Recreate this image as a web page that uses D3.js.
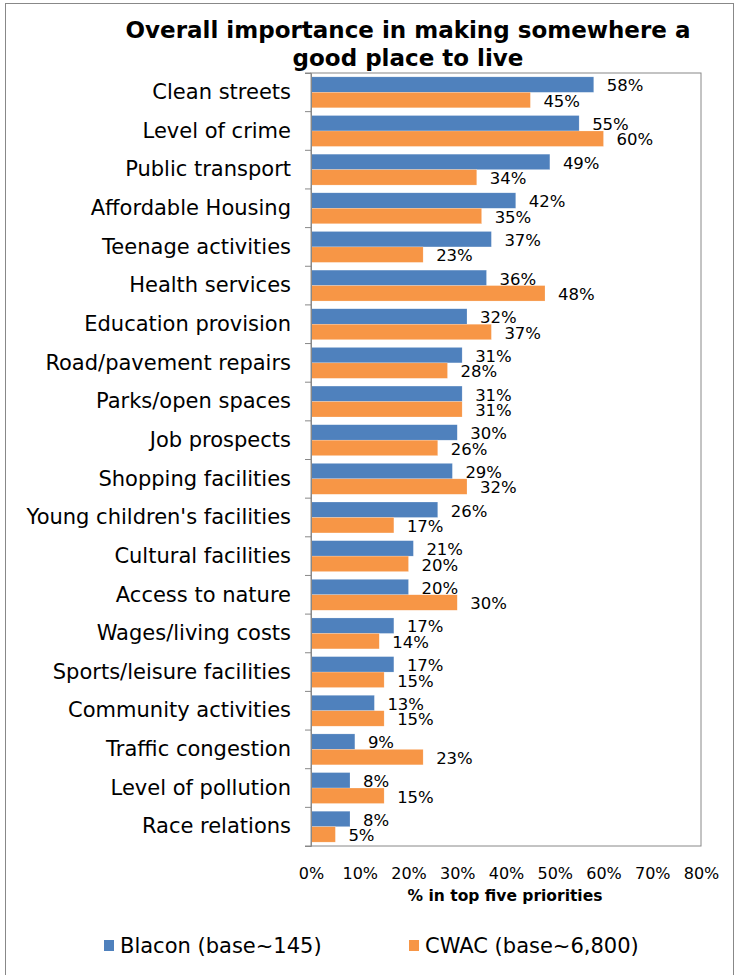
<!DOCTYPE html>
<html>
<head>
<meta charset="utf-8">
<script src="https://cdn.jsdelivr.net/npm/d3@7/dist/d3.min.js"></script>
<style>
  body { margin: 0; background: #fff; }
  svg { font-family: "DejaVu Sans", Verdana, sans-serif; }
</style>
</head>
<body>
<div id="container"></div>
<script>
/* Data */
var categories = ["Clean streets", "Level of crime", "Public transport", "Affordable Housing",
	"Teenage activities", "Health services", "Education provision", "Road/pavement repairs",
	"Parks/open spaces", "Job prospects", "Shopping facilities", "Young children's facilities",
	"Cultural facilities", "Access to nature", "Wages/living costs", "Sports/leisure facilities",
	"Community activities", "Traffic congestion", "Level of pollution", "Race relations"];
var blacon = [58, 55, 49, 42, 37, 36, 32, 31, 31, 30, 29, 26, 21, 20, 17, 17, 13, 9, 8, 8];
var cwac = [45, 60, 34, 35, 23, 48, 37, 28, 31, 26, 32, 17, 20, 30, 14, 15, 15, 23, 15, 5];
var seriesNames = ["Blacon (base~145)", "CWAC (base~6,800)"];
var xTicks = [0, 10, 20, 30, 40, 50, 60, 70, 80];
var colors = ["#4F81BD", "#F79646"];

var w = 739, h = 975;
var margin = {top: 73, left: 311, right: 38, bottom: 129};
var plotW = w - margin.left - margin.right,
	plotH = h - margin.top - margin.bottom;

var svg = d3.select("#container").append("svg")
	.attr("width", w)
	.attr("height", h);

/* outer chart border */
svg.append("rect")
	.attr("x", 5.5).attr("y", 3.5)
	.attr("width", 728).attr("height", 990)
	.attr("fill", "none")
	.attr("stroke", "#888");

/* title */
var title = svg.append("text")
	.attr("text-anchor", "middle")
	.attr("font-weight", "bold")
	.attr("font-size", 23)
	.attr("fill", "#000");
title.append("tspan").attr("x", 408).attr("y", 38).text("Overall importance in making somewhere a");
title.append("tspan").attr("x", 408).attr("y", 66).text("good place to live");

var g = svg.append("g")
	.attr("transform", "translate(" + margin.left + "," + margin.top + ")");

/* scales */
var xScale = d3.scaleLinear().domain([0, 80]).range([0, plotW]);
var yScale = d3.scaleBand().domain(categories).range([0, plotH]).paddingInner(0.2).paddingOuter(0.1);
var subScale = d3.scaleBand().domain([0, 1]).range([0, yScale.bandwidth()]);

/* plot border */
g.append("rect")
	.attr("width", plotW).attr("height", plotH)
	.attr("fill", "none")
	.attr("stroke", "#888");

/* bars */
var rows = categories.map((c, i) => ({cat: c, vals: [blacon[i], cwac[i]]}));

var row = g.selectAll(".row")
	.data(rows)
	.enter().append("g")
	.attr("class", "row")
	.attr("transform", d => "translate(0," + yScale(d.cat) + ")");

row.selectAll("rect")
	.data(d => d.vals.map((v, k) => ({v: v, k: k})))
	.enter().append("rect")
	.attr("x", 0)
	.attr("y", d => subScale(d.k))
	.attr("width", d => xScale(d.v))
	.attr("height", subScale.bandwidth())
	.attr("fill", d => colors[d.k])
	.attr("stroke", "#fff")
	.attr("stroke-opacity", 0.4)
	.attr("stroke-width", 0.5);

row.selectAll(".labels")
	.data(d => d.vals.map((v, k) => ({v: v, k: k})))
	.enter().append("text")
	.attr("class", "labels")
	.attr("x", d => xScale(d.v) + 13)
	.attr("y", d => subScale(d.k) + subScale.bandwidth() / 2 + 1)
	.attr("dy", "0.35em")
	.attr("font-size", 16.5)
	.attr("fill", "#000")
	.text(d => d.v + "%");

/* y axis */
var yAxis = d3.axisLeft(yScale).tickSize(6).tickPadding(14);
var yAx = g.append("g").call(yAxis);
yAx.select(".domain").attr("stroke", "#888");
yAx.selectAll(".tick line").attr("stroke", "#888")
	.attr("transform", "translate(0," + (-yScale.step() / 2) + ")");
yAx.selectAll(".tick text").attr("font-size", 21).attr("fill", "#000")
	.attr("font-family", "'DejaVu Sans', Verdana, sans-serif");
/* last tick at bottom */
yAx.append("line").attr("x1", -6).attr("x2", 0)
	.attr("y1", plotH).attr("y2", plotH).attr("stroke", "#888");

/* x axis */
var xAxis = d3.axisBottom(xScale).tickValues(xTicks).tickSize(0).tickPadding(22)
	.tickFormat(d => d + "%");
var xAx = g.append("g").attr("transform", "translate(0," + plotH + ")").call(xAxis);
xAx.select(".domain").remove();
xAx.selectAll(".tick text").attr("font-size", 16).attr("fill", "#000")
	.attr("font-family", "'DejaVu Sans', Verdana, sans-serif");

svg.append("text")
	.attr("x", 505).attr("y", 901)
	.attr("text-anchor", "middle")
	.attr("font-weight", "bold")
	.attr("font-size", 15.5)
	.text("% in top five priorities");

/* legend */
var legendX = [104, 409];
var legend = svg.selectAll(".legend")
	.data(seriesNames)
	.enter().append("g")
	.attr("class", "legend")
	.attr("transform", (d, i) => "translate(" + legendX[i] + ",940)");
legend.append("rect").attr("width", 10).attr("height", 11).attr("fill", (d, i) => colors[i]);
legend.append("text").attr("x", 16).attr("y", 6).attr("dy", "0.35em")
	.attr("font-size", 21).text(d => d);
</script>
</body>
</html>
